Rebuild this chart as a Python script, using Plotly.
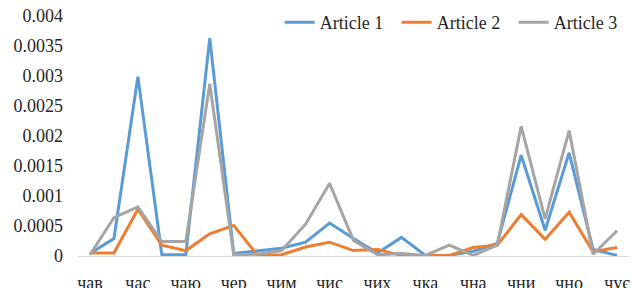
import plotly.graph_objects as go

tick_labels = ["чав", "час", "чаю", "чер", "чим", "чис", "чих", "чка", "чна", "чни", "чно", "чує"]
n_points = 23
x_idx = list(range(n_points))

article1 = [0.00004, 0.00029, 0.00299, 0.00002, 0.00002, 0.00363, 0.00004, 0.00009, 0.00013, 0.00023,
            0.00055, 0.00029, 0.00005, 0.00031, 0.00001, 0.00001, 0.00008, 0.00021, 0.00168, 0.00043,
            0.00172, 0.00011, 0.00001]
article2 = [0.00005, 0.00005, 0.00078, 0.00018, 0.00009, 0.00037, 0.00051, 0.00001, 0.00002, 0.00015,
            0.00023, 0.00009, 0.00011, 0.00001, 0.00001, 0.00001, 0.00014, 0.00018, 0.00069, 0.00028,
            0.00073, 0.00007, 0.00014]
article3 = [0.00002, 0.00064, 0.00082, 0.00024, 0.00024, 0.00287, 0.00002, 0.00003, 0.00009, 0.00053,
            0.00121, 0.00026, 0.00002, 0.00004, 0.00001, 0.00018, 0.00001, 0.00018, 0.00216, 0.00062,
            0.00209, 0.00003, 0.00042]

y_ticks = [0, 0.0005, 0.001, 0.0015, 0.002, 0.0025, 0.003, 0.0035, 0.004]
y_tick_text = ["0", "0.0005", "0.001", "0.0015", "0.002", "0.0025", "0.003", "0.0035", "0.004"]

font_family = "Liberation Serif"
text_color = "#262626"

fig = go.Figure()
for name, vals, color in [("Article 1", article1, "#5B9BD5"),
                          ("Article 2", article2, "#ED7D31"),
                          ("Article 3", article3, "#A5A5A5")]:
    fig.add_trace(go.Scatter(x=x_idx, y=vals, mode="lines", name=name,
                             line=dict(color=color, width=3)))

fig.update_layout(
    width=632, height=288,
    margin=dict(l=78, r=3, t=16, b=32, autoexpand=False),
    paper_bgcolor="white", plot_bgcolor="white",
    font=dict(family=font_family, size=18, color=text_color),
    showlegend=True,
    legend=dict(orientation="h", x=0.366, xanchor="left", y=0.973, yanchor="middle",
                bgcolor="rgba(0,0,0,0)",
                font=dict(family=font_family, size=18, color=text_color),
                entrywidth=72, entrywidthmode="pixels", itemwidth=30, tracegroupgap=0),
)
fig.update_xaxes(
    range=[-0.5, n_points - 0.5],
    tickvals=x_idx[::2], ticktext=tick_labels,
    tickfont=dict(family=font_family, size=18, color=text_color),
    showgrid=False, zeroline=False,
    showline=True, linecolor="#D9D9D9", linewidth=1,
    ticks="", ticklabelstandoff=10,
)
fig.update_yaxes(
    range=[0, 0.004],
    tickvals=y_ticks, ticktext=y_tick_text,
    tickfont=dict(family=font_family, size=18, color=text_color),
    showgrid=False, zeroline=False, showline=False,
    ticks="", ticklabelstandoff=14,
)

post = (
    "document.body.style.margin='0';document.body.style.padding='0';"
    "var s=document.createElement('style');"
    "s.textContent='.xtick text,.ytick text{font-family:\"Liberation Serif\",serif !important;}';"
    "document.head.appendChild(s);"
)
fig.write_html("out.html", config={"displayModeBar": False}, post_script=post)
